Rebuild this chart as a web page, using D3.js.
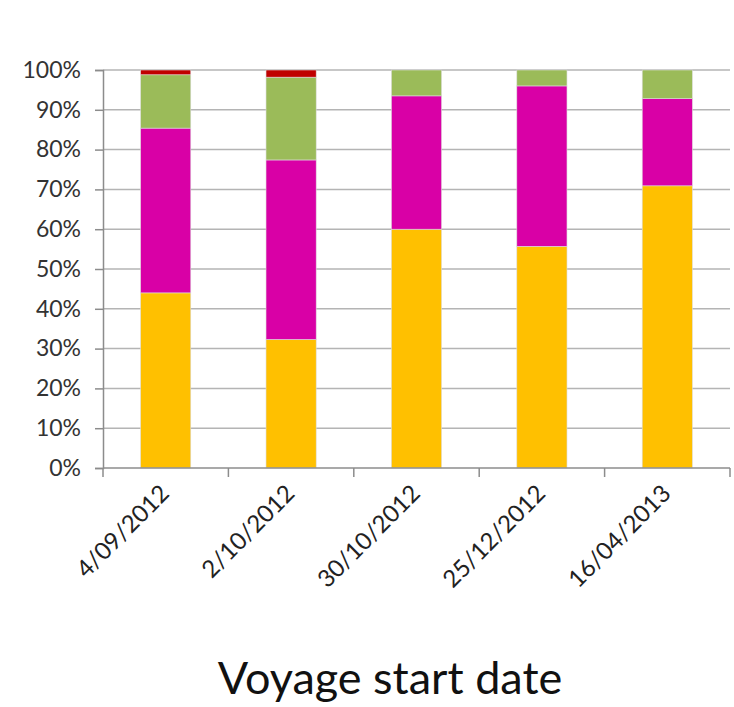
<!DOCTYPE html>
<html>
<head>
<meta charset="utf-8">
<script src="https://cdn.jsdelivr.net/npm/d3@7"></script>
<style>
  html, body { margin: 0; padding: 0; background: #fff; }
  svg { display: block; }
  text { font-family: Lato, "Open Sans", sans-serif; }
</style>
</head>
<body>
<svg id="chart" width="734" height="707"></svg>
<script>
// Voyage start dates (x categories)
const dates = ["4/09/2012", "2/10/2012", "30/10/2012", "25/12/2012", "16/04/2013"];

// Share of each segment per voyage, in percent (bottom to top)
const yellowShare  = [44.0, 32.3, 60.0, 55.7, 70.9];
const magentaShare = [41.4, 45.1, 33.5, 40.3, 21.9];
const greenShare   = [13.4, 20.8, 6.5, 4.0, 7.2];
const redShare     = [1.2, 1.8, 0, 0, 0];

const seriesKeys   = ["yellow", "magenta", "green", "red"];
const seriesColors = ["#FFC000", "#D900A6", "#9BBB59", "#C00000"];

// Tick values for the percentage axis
const yTicks = [0, 10, 20, 30, 40, 50, 60, 70, 80, 90, 100];

const axisLabel = "Voyage start date";

// Build row table for d3.stack
const rows = dates.map((d, i) => ({
  date: d,
  yellow: yellowShare[i],
  magenta: magentaShare[i],
  green: greenShare[i],
  red: redShare[i]
}));

const svg = d3.select("#chart");
const plot = { left: 103, right: 730, top: 70, bottom: 468 };

const x = d3.scaleBand()
  .domain(dates)
  .range([plot.left, plot.right])
  .paddingInner(0.6)
  .paddingOuter(0.3);

const y = d3.scaleLinear()
  .domain([0, 100])
  .range([plot.bottom, plot.top]);

const color = d3.scaleOrdinal().domain(seriesKeys).range(seriesColors);

// Horizontal gridlines
svg.append("g")
  .selectAll("line")
  .data(yTicks.filter(t => t > 0))
  .join("line")
  .attr("x1", plot.left)
  .attr("x2", plot.right)
  .attr("y1", d => y(d))
  .attr("y2", d => y(d))
  .attr("stroke", "#b4b4b4")
  .attr("stroke-width", 1.5);

// Stacked bars
const stacked = d3.stack().keys(seriesKeys)(rows);
svg.append("g")
  .selectAll("g")
  .data(stacked)
  .join("g")
  .attr("fill", d => color(d.key))
  .selectAll("rect")
  .data(d => d.filter(s => s[1] - s[0] > 0))
  .join("rect")
  .attr("x", d => x(d.data.date))
  .attr("width", x.bandwidth())
  .attr("y", d => y(d[1]))
  .attr("height", d => y(d[0]) - y(d[1]))
  .attr("stroke", "#dcdcdc")
  .attr("stroke-width", 0.6);

// Y axis
const yAxis = svg.append("g")
  .attr("transform", `translate(${plot.left},0)`)
  .call(d3.axisLeft(y).tickValues(yTicks).tickFormat(d => d + "%").tickSize(8).tickPadding(14));
yAxis.select(".domain").attr("stroke", "#8c8c8c").attr("stroke-width", 1.5);
yAxis.selectAll(".tick line").attr("stroke", "#8c8c8c").attr("stroke-width", 1.5);
yAxis.selectAll(".tick text")
  .attr("font-family", "Lato, 'Open Sans', sans-serif")
  .attr("font-size", 23)
  .attr("fill", "#333");

// X axis with boundary ticks between categories
const xAxisG = svg.append("g").attr("transform", `translate(0,${plot.bottom})`);
xAxisG.append("line")
  .attr("x1", plot.left).attr("x2", plot.right)
  .attr("stroke", "#8c8c8c").attr("stroke-width", 1.5);
const step = x.step();
const boundaries = d3.range(dates.length + 1).map(i => plot.left + i * step);
xAxisG.selectAll(".bound")
  .data(boundaries)
  .join("line")
  .attr("class", "bound")
  .attr("x1", d => d).attr("x2", d => d)
  .attr("y1", 0).attr("y2", 9)
  .attr("stroke", "#8c8c8c").attr("stroke-width", 1.5);

xAxisG.selectAll(".xl")
  .data(dates)
  .join("text")
  .attr("class", "xl")
  .attr("text-anchor", "end")
  .attr("font-size", 24)
  .attr("fill", "#222")
  .attr("transform", d => `translate(${x(d) + x.bandwidth() / 2 + 5},${27}) rotate(-45)`)
  .text(d => d);

// Axis title
svg.append("text")
  .attr("x", 390)
  .attr("y", 694)
  .attr("text-anchor", "middle")
  .attr("font-size", 45)
  .attr("fill", "#111")
  .text(axisLabel);
</script>
</body>
</html>
